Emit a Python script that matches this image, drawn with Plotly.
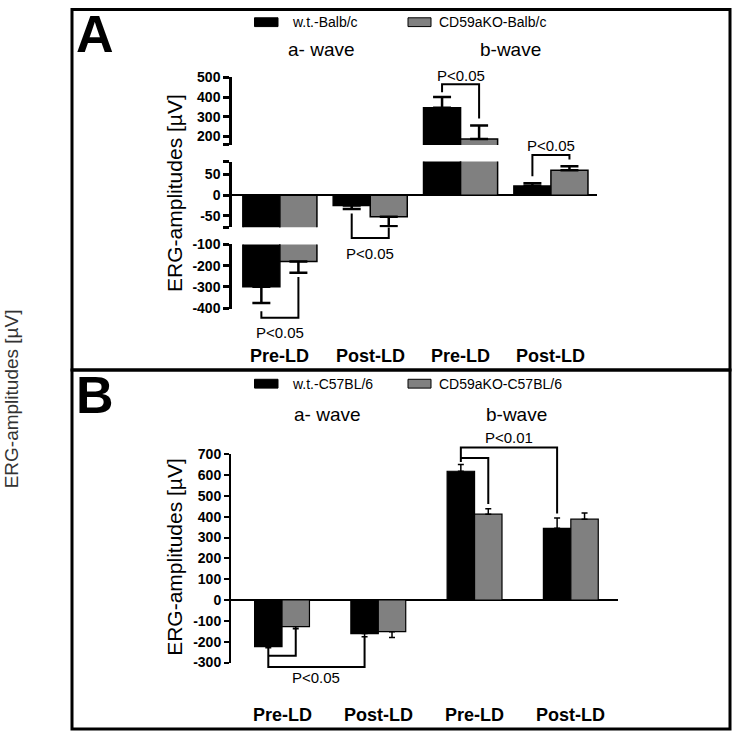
import plotly.graph_objects as go

# ---------------- data ----------------
categories = ["Pre-LD", "Post-LD", "Pre-LD", "Post-LD"]
wave_labels = ["a- wave", "b-wave"]
y_title = "ERG-amplitudes [µV]"

# Panel A (Balb/c)
a_names = ["w.t.-Balb/c", "CD59aKO-Balb/c"]
a_wt = [-300, -25, 345, 22]
a_wt_err = [76, 8, 55, 7]
a_ko = [-180, -52, 185, 60]
a_ko_err = [53, 23, 70, 10]

# Panel B (C57BL/6)
b_names = ["w.t.-C57BL/6", "CD59aKO-C57BL/6"]
b_wt = [-224, -161, 618, 344]
b_wt_err = [5, 15, 32, 50]
b_ko = [-128, -152, 412, 388]
b_ko_err = [10, 28, 26, 30]

# broken y axis of panel A (three segments)
a_top_ticks = [200, 300, 400, 500]
a_mid_ticks = [-50, 0, 50]
a_bot_ticks = [-400, -300, -200, -100]
b_ticks = [-300, -200, -100, 0, 100, 200, 300, 400, 500, 600, 700]

# significance brackets: (category, side(-1 wt / +1 ko / 0 centre), value)
a_sig = [
    dict(seg="bot", pts=[(0, -1, -415), (0, -1, -446), (0, 1, -446), (0, 1, -254)], text=(0, 0, -515), label="P<0.05"),
    dict(seg="mid", pts=[(1, -1, -44), (1, -1, -103), (1, 1, -103), (1, 1, -78)], text=(1, 0, -141), label="P<0.05"),
    dict(seg="top", pts=[(2, -1, 425), (2, -1, 465), (2, 1, 465), (2, 1, 290)], text=(2, 0, 510), label="P<0.05"),
    dict(seg="mid", pts=[(3, -1, 46), (3, -1, 97), (3, 1, 97), (3, 1, 86)], text=(3, 0, 120), label="P<0.05"),
]
b_sig = [
    dict(pts=[(2, -1, 662), (2, -1, 732), (3, -1, 732), (3, -1, 415)], text=(2.5, -1, 779), label="P<0.01"),
    dict(pts=[(2, -1, 681), (2, 1, 681), (2, 1, 461)], text=None, label=None),
    dict(pts=[(0, -1, -229), (0, -1, -321), (1, -1, -321), (1, -1, -178)], text=(0.5, -1, -371), label="P<0.05"),
    dict(pts=[(0, -1, -268), (0, 1, -268), (0, 1, -138)], text=None, label=None),
]

# ---------------- geometry ----------------
W, H = 733, 740
def fx(p):
    return p / W
def fy(p):
    return 1 - p / H

FONT = "Arial, Liberation Sans, sans-serif"
COLORS = ["#000000", "#808080"]

A_XDOM = [fx(232), fx(597)]
A_XR = [-0.53, 3.51]
A_SEG = {
    "top": dict(dom=[fy(140), fy(71)], rng=[155, 500], ax="y2"),
    "mid": dict(dom=[fy(224), fy(157)], rng=[-77, 81], ax="y"),
    "bot": dict(dom=[fy(308), fy(241.7)], rng=[-406, -100], ax="y3"),
}
B_XDOM = [fx(231), fx(618)]
B_XR = [-0.53, 3.49]
B_YDOM = [fy(669), fy(456)]
B_YR = [-300, 700]

A_BW = 0.41
B_BW = 0.285


def to_paper(v, dom, rng):
    return dom[0] + (v - rng[0]) / (rng[1] - rng[0]) * (dom[1] - dom[0])


def err(vals, errs):
    return dict(type="data", symmetric=False,
                array=[e if v > 0 else 0 for v, e in zip(vals, errs)],
                arrayminus=[e if v < 0 else 0 for v, e in zip(vals, errs)])


def note(text, x, y, size, angle=0, color="black"):
    return dict(text=text, x=x, y=y, xref="paper", yref="paper", showarrow=False,
                xanchor="center", yanchor="middle", textangle=angle,
                font=dict(family=FONT, size=size, color=color))


fig = go.Figure()
xs = list(range(len(categories)))

# Panel A: same bars drawn in each axis segment (clipped by segment range)
for seg in ["top", "mid", "bot"]:
    for i, (name, vals, errs) in enumerate([(a_names[0], a_wt, a_wt_err), (a_names[1], a_ko, a_ko_err)]):
        fig.add_trace(go.Bar(
            x=xs, y=vals, name=name, xaxis="x", yaxis=A_SEG[seg]["ax"],
            width=A_BW, offset=-A_BW if i == 0 else 0,
            marker=dict(color=COLORS[i], line=dict(color="black", width=1.5)),
            error_y=dict(**err(vals, errs), color="black", thickness=2.5, width=9),
            showlegend=False))

# Panel B
for i, (name, vals, errs) in enumerate([(b_names[0], b_wt, b_wt_err), (b_names[1], b_ko, b_ko_err)]):
    fig.add_trace(go.Bar(
        x=xs, y=vals, name=name, xaxis="x2", yaxis="y4",
        width=B_BW, offset=-B_BW if i == 0 else 0,
        marker=dict(color=COLORS[i], line=dict(color="black", width=1.2)),
        error_y=dict(**err(vals, errs), color="black", thickness=1.5, width=3),
        showlegend=False))

yax_common = dict(showline=True, linecolor="black", ticks="outside", tickcolor="black",
                  showgrid=False, fixedrange=True,
                  tickfont=dict(family=FONT, size=14, color="black", weight="bold"))

fig.update_layout(
    width=W, height=H, margin=dict(l=0, r=0, t=0, b=0),
    paper_bgcolor="white", plot_bgcolor="rgba(0,0,0,0)",
    showlegend=False, barmode="overlay",
    xaxis=dict(domain=A_XDOM, range=A_XR, visible=False, anchor="y"),
    xaxis2=dict(domain=B_XDOM, range=B_XR, visible=False, anchor="y4"),
    yaxis=dict(domain=A_SEG["mid"]["dom"], range=A_SEG["mid"]["rng"], anchor="x",
               tickvals=[A_SEG["mid"]["rng"][0]] + a_mid_ticks + [A_SEG["mid"]["rng"][1]],
               ticktext=[""] + [str(t) for t in a_mid_ticks] + [""],
               zeroline=True, zerolinecolor="black", zerolinewidth=2,
               linewidth=2.5, tickwidth=2.5, ticklen=6, **yax_common),
    yaxis2=dict(domain=A_SEG["top"]["dom"], range=A_SEG["top"]["rng"], anchor="x",
                tickvals=[A_SEG["top"]["rng"][0]] + a_top_ticks,
                ticktext=[""] + [str(t) for t in a_top_ticks],
                zeroline=False, linewidth=2.5, tickwidth=2.5, ticklen=6, **yax_common),
    yaxis3=dict(domain=A_SEG["bot"]["dom"], range=A_SEG["bot"]["rng"], anchor="x",
                tickvals=a_bot_ticks, ticktext=[str(t) for t in a_bot_ticks],
                zeroline=False, linewidth=2.5, tickwidth=2.5, ticklen=6, **yax_common),
    yaxis4=dict(domain=B_YDOM, range=B_YR, anchor="x2",
                tickvals=b_ticks, ticktext=[str(t) for t in b_ticks],
                zeroline=True, zerolinecolor="black", zerolinewidth=2,
                linewidth=2, tickwidth=2, ticklen=5, **yax_common),
)

shapes = []
annots = []

# panel frames
shapes.append(dict(type="rect", xref="paper", yref="paper", x0=fx(72), x1=fx(730), y0=fy(370), y1=fy(1.5),
                   line=dict(color="black", width=3)))
shapes.append(dict(type="rect", xref="paper", yref="paper", x0=fx(72), x1=fx(730), y0=fy(737), y1=fy(370),
                   line=dict(color="black", width=3)))

# panel letters
annots.append(note("<b>A</b>", fx(95), fy(27), 52))
annots.append(note("<b>B</b>", fx(95), fy(396), 52))

# outer rotated label
annots.append(note(y_title, fx(11), fy(400), 19, angle=-90, color="#333333"))

# custom legends, wave labels, inner y titles, category labels
for names, leg_y, wave_y, title_y, cat_y, xdom, xr, wave_x in [
    (a_names, 14.5, 42, 189, 356, A_XDOM, A_XR, (321, 510)),
    (b_names, 384, 415, 561, 723, B_XDOM, B_XR, (327, 516)),
]:
    for (x0, x1, tx), col, nm in zip([(254.5, 278, 290), (408, 431, 437)], COLORS, names):
        shapes.append(dict(type="rect", xref="paper", yref="paper", x0=fx(x0), x1=fx(x1),
                           y0=fy(leg_y + 4.5), y1=fy(leg_y - 4.5), fillcolor=col,
                           line=dict(color="black", width=1)))
        a = note(nm, fx(tx), fy(leg_y), 14)
        a["xanchor"] = "left"
        annots.append(a)
    for wl, wx in zip(wave_labels, wave_x):
        annots.append(note(wl, fx(wx), fy(wave_y), 19))
    annots.append(note(y_title, fx(175), fy(title_y), 21, angle=-90))
    for i, c in enumerate(categories):
        annots.append(note("<b>%s</b>" % c, to_paper(i, xdom, xr), fy(cat_y), 18))


def bracket_path(pts, half, xdom, xr, ydom, yr):
    coords = []
    for c, side, v in pts:
        coords.append((to_paper(c + side * half, xdom, xr), to_paper(v, ydom, yr)))
    return "M " + " L ".join("%.5f,%.5f" % p for p in coords)


for b in a_sig:
    seg = A_SEG[b["seg"]]
    shapes.append(dict(type="path", xref="paper", yref="paper",
                       path=bracket_path(b["pts"], A_BW / 2, A_XDOM, A_XR, seg["dom"], seg["rng"]),
                       line=dict(color="black", width=2)))
    c, side, v = b["text"]
    annots.append(note(b["label"], to_paper(c + side * A_BW / 2, A_XDOM, A_XR),
                       to_paper(v, seg["dom"], seg["rng"]), 15))

for b in b_sig:
    shapes.append(dict(type="path", xref="paper", yref="paper",
                       path=bracket_path(b["pts"], B_BW / 2, B_XDOM, B_XR, B_YDOM, B_YR),
                       line=dict(color="black", width=2)))
    if b["text"]:
        c, side, v = b["text"]
        annots.append(note(b["label"], to_paper(c + side * B_BW / 2, B_XDOM, B_XR),
                           to_paper(v, B_YDOM, B_YR), 15))

fig.update_layout(shapes=shapes, annotations=annots)

fig.write_html("out.html", config={"displayModeBar": False},
               post_script="document.body.style.margin='0';")
